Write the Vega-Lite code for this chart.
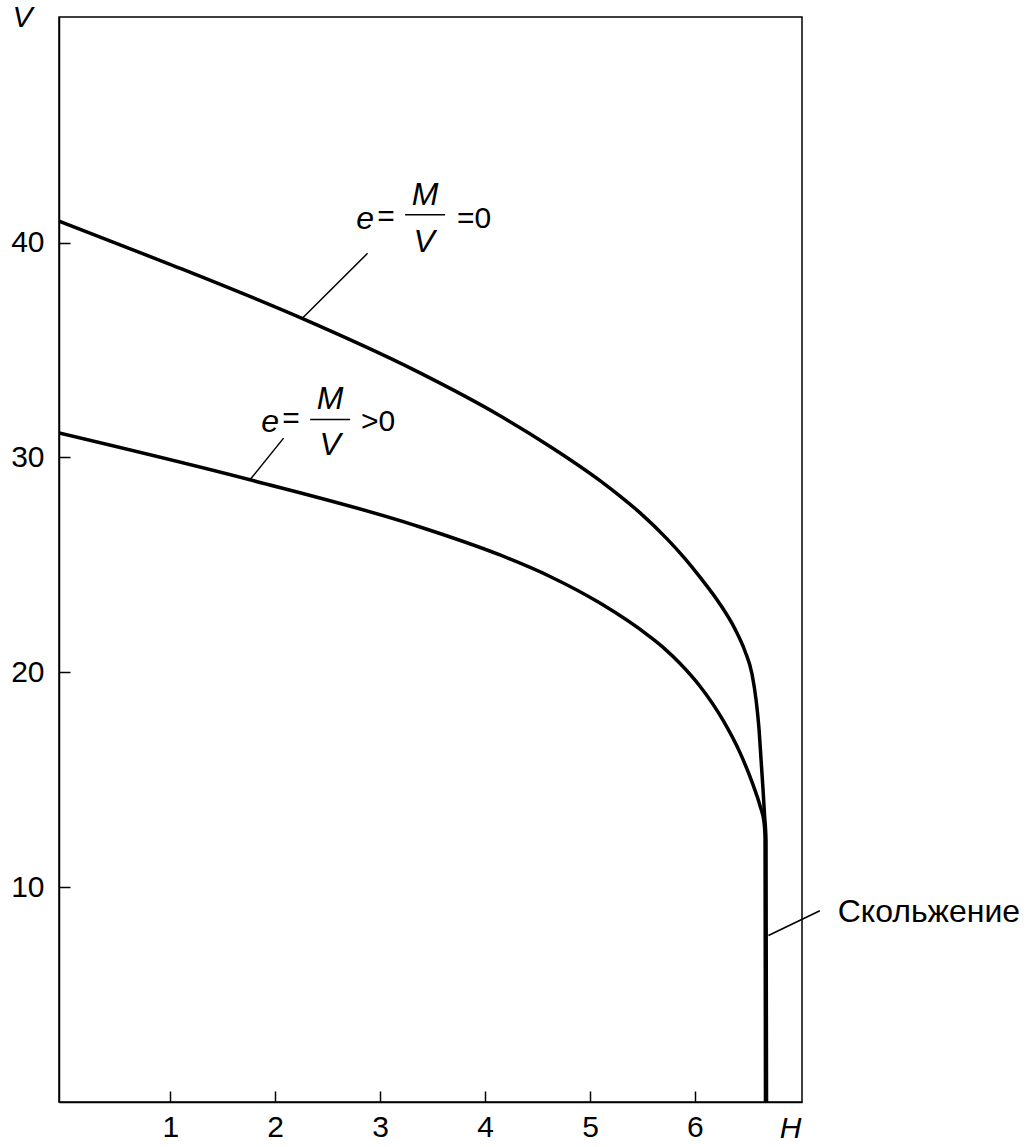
{
  "$schema": "https://vega.github.io/schema/vega-lite/v6.json",
  "width": 743,
  "height": 1085,
  "autosize": "none",
  "padding": {"left": 59, "top": 17, "right": 232, "bottom": 45},
  "background": "white",
  "config": {
    "font": "Liberation Sans",
    "view": {"stroke": "black", "strokeWidth": 1.5},
    "axis": {
      "domainColor": "black",
      "domainWidth": 1.5,
      "tickColor": "black",
      "tickWidth": 1.5,
      "labelColor": "black",
      "labelFont": "Liberation Sans",
      "labelFontSize": 30,
      "titleFont": "Liberation Sans",
      "titleFontSize": 30,
      "titleFontStyle": "italic",
      "titleFontWeight": "normal",
      "titleColor": "black",
      "grid": false
    }
  },
  "datasets": {
    "curves": [
      {"series": "e0", "i": 1, "H": -0.06, "V": 41.0},
      {"series": "e0", "i": 2, "H": 0.998, "V": 38.99},
      {"series": "e0", "i": 3, "H": 2.256, "V": 36.47},
      {"series": "e0", "i": 4, "H": 3.332, "V": 34.05},
      {"series": "e0", "i": 5, "H": 4.142, "V": 31.94},
      {"series": "e0", "i": 6, "H": 4.619, "V": 30.51},
      {"series": "e0", "i": 7, "H": 5.095, "V": 28.92},
      {"series": "e0", "i": 8, "H": 5.286, "V": 28.2},
      {"series": "e0", "i": 9, "H": 5.477, "V": 27.42},
      {"series": "e0", "i": 10, "H": 5.734, "V": 26.21},
      {"series": "e0", "i": 11, "H": 5.905, "V": 25.29},
      {"series": "e0", "i": 12, "H": 6.048, "V": 24.43},
      {"series": "e0", "i": 13, "H": 6.239, "V": 23.17},
      {"series": "e0", "i": 14, "H": 6.382, "V": 22.01},
      {"series": "e0", "i": 15, "H": 6.477, "V": 20.98},
      {"series": "e0", "i": 16, "H": 6.544, "V": 19.91},
      {"series": "e0", "i": 17, "H": 6.582, "V": 18.73},
      {"series": "e0", "i": 18, "H": 6.611, "V": 17.32},
      {"series": "e0", "i": 19, "H": 6.63, "V": 15.92},
      {"series": "e0", "i": 20, "H": 6.649, "V": 14.52},
      {"series": "e0", "i": 21, "H": 6.663, "V": 13.36},
      {"series": "e0", "i": 22, "H": 6.677, "V": 12.19},
      {"series": "e0", "i": 23, "H": 6.682, "V": 0},
      {"series": "e1", "i": 1, "H": -0.06, "V": 31.14},
      {"series": "e1", "i": 2, "H": 1.76, "V": 28.96},
      {"series": "e1", "i": 3, "H": 3.332, "V": 26.84},
      {"series": "e1", "i": 4, "H": 4.142, "V": 25.46},
      {"series": "e1", "i": 5, "H": 4.619, "V": 24.46},
      {"series": "e1", "i": 6, "H": 5.095, "V": 23.22},
      {"series": "e1", "i": 7, "H": 5.572, "V": 21.65},
      {"series": "e1", "i": 8, "H": 5.715, "V": 21.08},
      {"series": "e1", "i": 9, "H": 5.858, "V": 20.41},
      {"series": "e1", "i": 10, "H": 6.048, "V": 19.35},
      {"series": "e1", "i": 11, "H": 6.267, "V": 17.77},
      {"series": "e1", "i": 12, "H": 6.429, "V": 16.26},
      {"series": "e1", "i": 13, "H": 6.553, "V": 14.77},
      {"series": "e1", "i": 14, "H": 6.62, "V": 13.79},
      {"series": "e1", "i": 15, "H": 6.658, "V": 13.03},
      {"series": "e1", "i": 16, "H": 6.668, "V": 12.3},
      {"series": "e1", "i": 17, "H": 6.672, "V": 0}
    ],
    "leaders": [
      {"H": 2.256, "V": 36.47, "H2": 2.88, "V2": 39.5},
      {"H": 1.76, "V": 28.96, "H2": 2.08, "V2": 30.9},
      {"H": 6.7, "V": 7.75, "H2": 7.19, "V2": 8.9}
    ],
    "bars": [
      {"H": 3.238, "H2": 3.619, "V": 41.3},
      {"H": 2.333, "H2": 2.714, "V": 31.77}
    ],
    "italic": [
      {"H": 2.857, "V": 41.12, "t": "e"},
      {"H": 3.429, "V": 42.23, "t": "M"},
      {"H": 3.419, "V": 40.05, "t": "V"},
      {"H": 1.952, "V": 31.67, "t": "e"},
      {"H": 2.524, "V": 32.74, "t": "M"},
      {"H": 2.524, "V": 30.6, "t": "V"}
    ],
    "plain": [
      {"H": 3.057, "V": 41.21, "t": "="},
      {"H": 3.895, "V": 41.12, "t": "=0"},
      {"H": 2.152, "V": 31.77, "t": "="},
      {"H": 2.981, "V": 31.67, "t": ">0"}
    ],
    "side": [
      {"H": 7.36, "V": 8.84, "t": "Скольжение"}
    ]
  },
  "resolve": {"axis": {"x": "independent", "y": "independent"}},
  "layer": [
    {
      "data": {"name": "curves"},
      "mark": {"type": "line", "color": "black", "strokeWidth": 3.5, "interpolate": "monotone", "clip": true},
      "encoding": {
        "x": {
          "field": "H", "type": "quantitative",
          "scale": {"domain": [-0.06, 7.02], "nice": false, "zero": false},
          "axis": {
            "orient": "bottom",
            "values": [1, 2, 3, 4, 5, 6],
            "format": "d",
            "ticks": false,
            "labelPadding": 10,
            "title": "H",
            "titleX": 731,
            "titleY": 26,
            "titleAlign": "center",
            "titleBaseline": "middle"
          }
        },
        "y": {
          "field": "V", "type": "quantitative",
          "scale": {"domain": [0, 50.5], "nice": false, "zero": false},
          "axis": {
            "orient": "left",
            "values": [10, 20, 30, 40],
            "format": "d",
            "ticks": false,
            "labelPadding": 15,
            "title": "V",
            "titleAngle": 0,
            "titleX": -37,
            "titleY": 0,
            "titleAlign": "center",
            "titleBaseline": "middle"
          }
        },
        "detail": {"field": "series"},
        "order": {"field": "i", "type": "quantitative"}
      }
    },
    {
      "data": {"name": "leaders"},
      "mark": {"type": "rule", "color": "black", "strokeWidth": 1.5},
      "encoding": {
        "x": {
          "field": "H", "type": "quantitative",
          "axis": {
            "orient": "bottom",
            "values": [1, 2, 3, 4, 5, 6],
            "offset": -11,
            "tickSize": 11,
            "domain": false,
            "labels": false,
            "title": null
          }
        },
        "y": {
          "field": "V", "type": "quantitative",
          "axis": {
            "orient": "left",
            "values": [10, 20, 30, 40],
            "offset": -11,
            "tickSize": 11,
            "domain": false,
            "labels": false,
            "title": null
          }
        },
        "x2": {"field": "H2"},
        "y2": {"field": "V2"}
      }
    },
    {
      "data": {"name": "bars"},
      "mark": {"type": "rule", "color": "black", "strokeWidth": 1.5},
      "encoding": {
        "x": {"field": "H", "type": "quantitative", "axis": null},
        "x2": {"field": "H2"},
        "y": {"field": "V", "type": "quantitative", "axis": null}
      }
    },
    {
      "data": {"name": "italic"},
      "mark": {"type": "text", "fontSize": 32, "fontStyle": "italic", "font": "Liberation Sans", "color": "black", "align": "center", "baseline": "middle"},
      "encoding": {
        "x": {"field": "H", "type": "quantitative", "axis": null},
        "y": {"field": "V", "type": "quantitative", "axis": null},
        "text": {"field": "t"}
      }
    },
    {
      "data": {"name": "plain"},
      "mark": {"type": "text", "fontSize": 30, "font": "Liberation Sans", "color": "black", "align": "center", "baseline": "middle"},
      "encoding": {
        "x": {"field": "H", "type": "quantitative", "axis": null},
        "y": {"field": "V", "type": "quantitative", "axis": null},
        "text": {"field": "t"}
      }
    },
    {
      "data": {"name": "side"},
      "mark": {"type": "text", "fontSize": 32, "font": "Liberation Sans", "color": "black", "align": "left", "baseline": "middle"},
      "encoding": {
        "x": {"field": "H", "type": "quantitative", "axis": null},
        "y": {"field": "V", "type": "quantitative", "axis": null},
        "text": {"field": "t"}
      }
    }
  ]
}
